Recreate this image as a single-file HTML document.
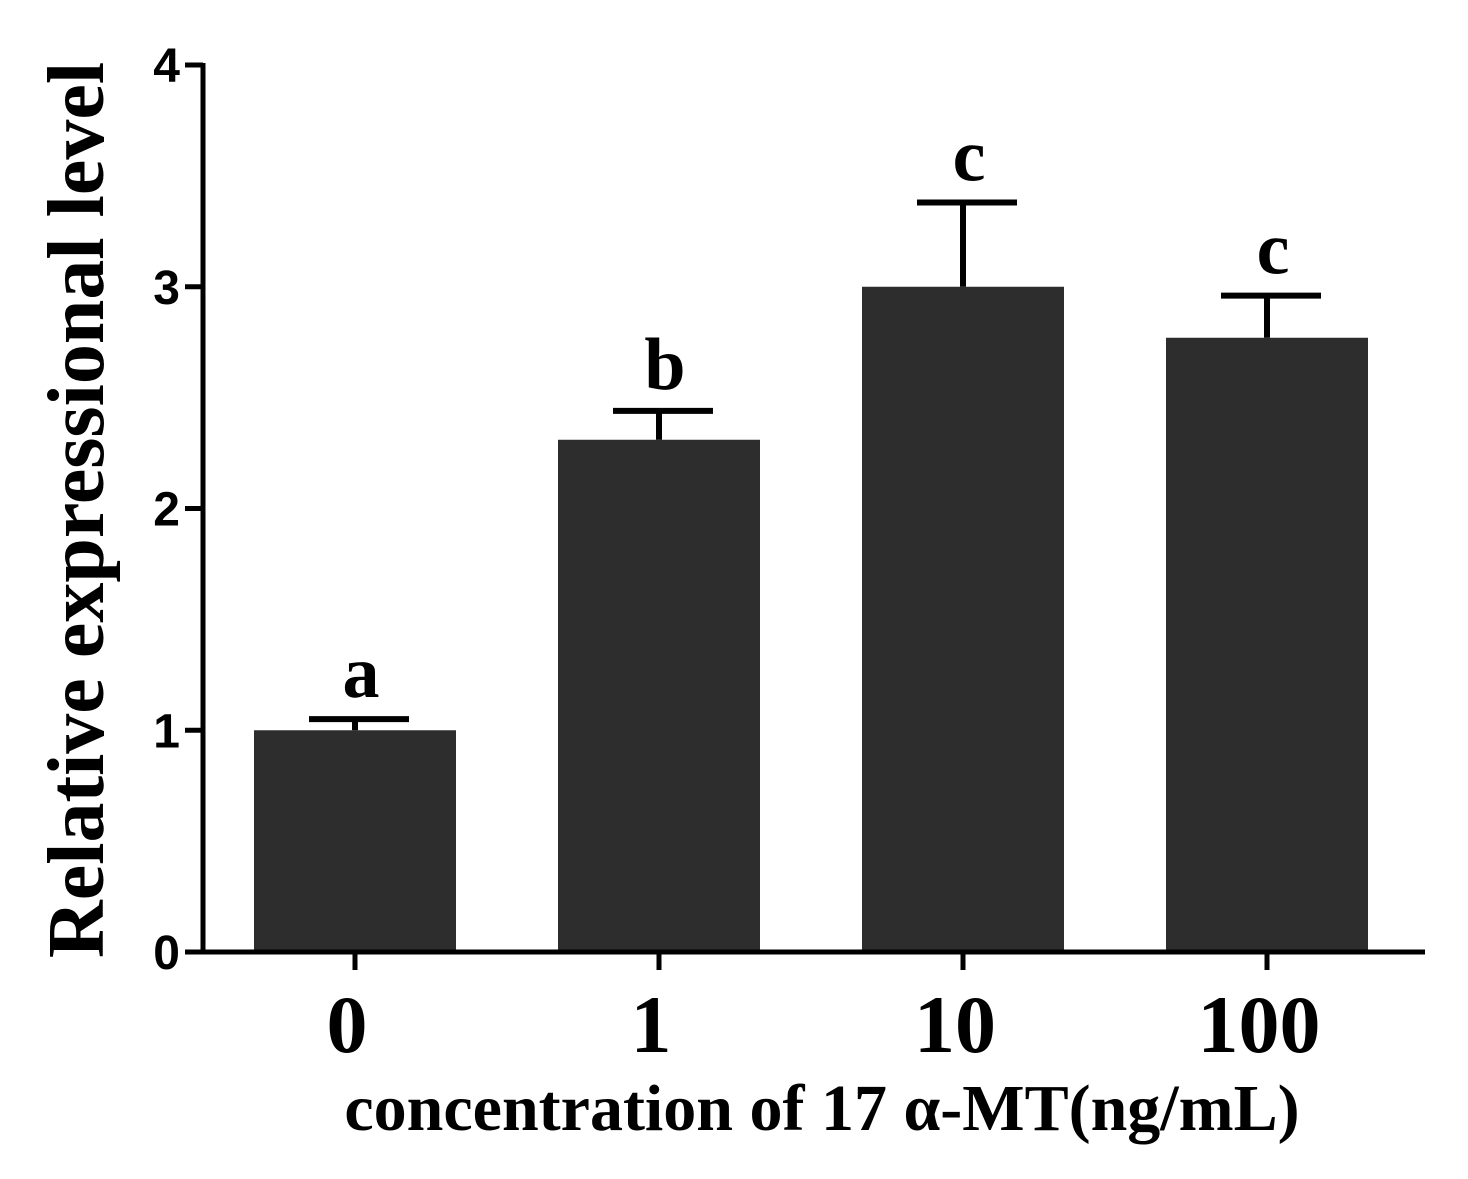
<!DOCTYPE html>
<html><head><meta charset="utf-8"><style>
html,body{margin:0;padding:0;background:#fff;}
svg{display:block;}
</style></head><body>
<svg id="chart" width="1468" height="1179" viewBox="0 0 1468 1179">
<g id="plot"></g>
</svg>
<script>
const categories = ["0","1","10","100"];
const means = [1.0, 2.31, 3.0, 2.77];
const errors = [0.05, 0.13, 0.38, 0.19];
const sigLetters = ["a","b","c","c"];
const yTicks = [0,1,2,3,4];

const NS="http://www.w3.org/2000/svg";
const g=document.getElementById('plot');
const y0=952, yTop=65, yMax=4;
const yScale=v=>y0-(v/yMax)*(y0-yTop);
const axisX=203, axisRight=1425;
const xCenters0=355, step=304;
const xScale=i=>xCenters0+i*step;
const barW=202, capW=100;
function el(tag,attrs,text){const e=document.createElementNS(NS,tag);for(const k in attrs)e.setAttribute(k,attrs[k]);if(text!==undefined)e.textContent=text;g.appendChild(e);return e;}

categories.forEach((c,i)=>{
  const cx=xScale(i), top=yScale(means[i]), et=yScale(means[i]+errors[i]);
  const b=el('rect',{x:cx-barW/2,y:top,width:barW,height:y0-top,fill:'#2d2d2d'});
  
  
  const l=el('line',{x1:cx,x2:cx,y1:top,y2:et,stroke:'#000','stroke-width':6});
  
  
  const cap=el('line',{x1:cx-capW/2+4,x2:cx+capW/2+4,y1:et,y2:et,stroke:'#000','stroke-width':6});
  
  
  const s=el('text',{x:cx+6,y:et-22,'text-anchor':'middle','font-family':'Liberation Serif, serif','font-weight':'bold','font-size':74},sigLetters[i]);
  
  
  const t=el('line',{x1:cx,x2:cx,y1:y0,y2:y0+18,stroke:'#000','stroke-width':5});
  
  
  const tl=el('text',{x:cx-8,y:1052,'text-anchor':'middle','font-family':'Liberation Serif, serif','font-weight':'bold','font-size':82},c);
  
  
});
yTicks.forEach(v=>{
  const y=yScale(v);
  const t=el('line',{x1:axisX-18,x2:axisX,y1:y,y2:y,stroke:'#000','stroke-width':5});
  
  
  const tl=el('text',{x:180,y:y+17,'text-anchor':'end','font-family':'Liberation Sans, sans-serif','font-weight':'bold','font-size':48},String(v));
  
  
});
const ya=el('line',{x1:axisX,x2:axisX,y1:yTop-2,y2:y0+2.5,stroke:'#000','stroke-width':5});


const xa=el('line',{x1:axisX-2.5,x2:axisRight,y1:y0,y2:y0,stroke:'#000','stroke-width':5});


const yt=el('text',{x:0,y:0,transform:'translate(103,510) rotate(-90)','text-anchor':'middle','font-family':'Liberation Serif, serif','font-weight':'bold','font-size':80},'Relative expressional level');


const xt=el('text',{x:822,y:1130,'text-anchor':'middle','font-family':'Liberation Serif, serif','font-weight':'bold','font-size':66},'concentration of 17 α-MT(ng/mL)');


</script>
</body></html>
